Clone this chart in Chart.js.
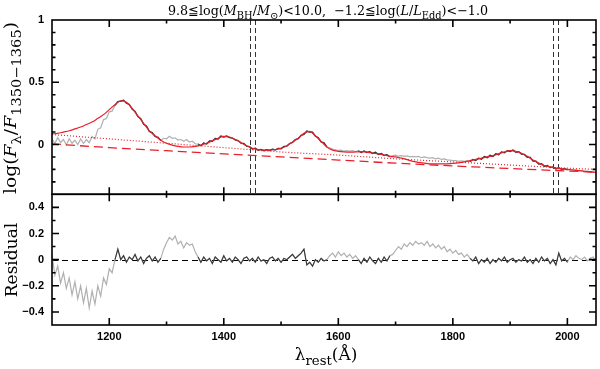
<!DOCTYPE html>
<html>
<head>
<meta charset="utf-8">
<script src="https://cdn.jsdelivr.net/npm/chart.js@4.4.1/dist/chart.umd.min.js"></script>
<style>
  html, body { margin: 0; padding: 0; background: #fff; }
  canvas { display: block; }
</style>
</head>
<body>
<canvas id="spec" width="600" height="369"></canvas>
<script>
// Spectrum sampling (rest-frame wavelength grid, Angstrom)
const SPEC_START = 1100;
const SPEC_STEP = 5;

// Composite spectrum, log(F / F_1350-1365), one value per 5 A from 1100 to 2050
const flux = [
    0.045, 0.008, 0.056, 0.016, 0.04, -0.004, 0.046, 0.01, 0.034, 0.0,
    0.044, 0.008, 0.04, 0.014, 0.064, 0.044, 0.122, 0.134, 0.2, 0.208,
    0.262, 0.268, 0.314, 0.345, 0.348, 0.356, 0.332, 0.322, 0.284, 0.266,
    0.224, 0.208, 0.163, 0.148, 0.104, 0.096, 0.064, 0.058, 0.032, 0.05,
    0.046, 0.066, 0.05, 0.054, 0.036, 0.04, 0.026, 0.04, 0.02, 0.026,
    0.006, 0.004, -0.01, 0.012, 0.004, 0.028, 0.026, 0.048, 0.044, 0.068,
    0.06, 0.068, 0.056, 0.052, 0.036, 0.032, 0.01, 0.008, -0.014, -0.018,
    -0.036, -0.03, -0.046, -0.04, -0.05, -0.042, -0.048, -0.038, -0.044, -0.032,
    -0.034, -0.016, -0.014, 0.008, 0.016, 0.04, 0.046, 0.074, 0.08, 0.108,
    0.1, 0.1, 0.066, 0.054, 0.02, 0.014, -0.02, -0.026, -0.036, -0.042,
    -0.048, -0.046, -0.054, -0.05, -0.054, -0.05, -0.058, -0.05, -0.064, -0.052,
    -0.064, -0.058, -0.072, -0.062, -0.08, -0.072, -0.088, -0.082, -0.098, -0.09,
    -0.086, -0.094, -0.09, -0.096, -0.092, -0.1, -0.096, -0.1, -0.096, -0.106,
    -0.1, -0.106, -0.11, -0.106, -0.116, -0.11, -0.12, -0.116, -0.124, -0.126,
    -0.13, -0.13, -0.136, -0.132, -0.136, -0.13, -0.138, -0.12, -0.128, -0.11,
    -0.118, -0.096, -0.106, -0.086, -0.096, -0.074, -0.082, -0.06, -0.066, -0.05,
    -0.056, -0.044, -0.062, -0.058, -0.078, -0.08, -0.104, -0.104, -0.134, -0.134,
    -0.158, -0.154, -0.176, -0.168, -0.186, -0.18, -0.196, -0.186, -0.2, -0.194,
    -0.204, -0.2, -0.206, -0.204, -0.21, -0.21, -0.216, -0.214, -0.22, -0.22,
    -0.224
];

// Fit residual on the same grid
const resid = [
    0.04, -0.12, -0.05, -0.18, -0.1, -0.22, -0.14, -0.27, -0.17, -0.3,
    -0.2, -0.33, -0.22, -0.37, -0.24, -0.34, -0.2, -0.28, -0.14, -0.19,
    -0.07, -0.1, 0.0, 0.08, 0.0, 0.03, -0.02, 0.02, 0.0, 0.04,
    -0.01, 0.02, -0.03, 0.01, 0.03, -0.01, 0.02, -0.02, 0.01, 0.08,
    0.13, 0.17, 0.15, 0.18, 0.12, 0.14, 0.09, 0.13, 0.11, 0.12,
    0.06, 0.02, -0.02, 0.02, -0.01, 0.01, -0.03, 0.02, 0.0, -0.02,
    0.03, -0.01, 0.01, -0.02, 0.02, 0.0, -0.03, 0.01, 0.02, -0.01,
    0.01, -0.02, 0.02, -0.01, 0.0, -0.03, 0.01, 0.02, -0.01, 0.01,
    -0.02, 0.01, 0.0, 0.02, 0.04, 0.01, 0.03, 0.05, 0.08, -0.04,
    -0.02, -0.05, 0.0, -0.02, 0.01, -0.01, 0.0, 0.03, 0.05, 0.02,
    0.06, 0.03, 0.05, 0.02, 0.04, 0.01, 0.03, 0.0, -0.03, 0.01,
    -0.02, 0.02, -0.01, -0.03, 0.01, -0.02, 0.02, -0.01, 0.03, 0.04,
    0.07, 0.1, 0.08, 0.12, 0.1, 0.13, 0.11, 0.14, 0.12, 0.13,
    0.11, 0.14, 0.1, 0.12, 0.09, 0.11, 0.08, 0.1, 0.06, 0.08,
    0.05, 0.07, 0.04, 0.05, 0.02, 0.04, 0.01, -0.01, 0.02, -0.03,
    0.0, -0.02, 0.01, -0.03, 0.0, -0.02, 0.01, -0.01, 0.02, -0.02,
    0.0, 0.01, -0.02, 0.0, -0.01, 0.02, -0.02, 0.0, -0.03, 0.01,
    -0.02, 0.02, -0.01, 0.01, -0.03, 0.0, -0.04, 0.05, -0.01, 0.01,
    -0.02, 0.02, 0.0, 0.03, 0.01, 0.0, 0.02, -0.01, 0.01, 0.02,
    -0.01
];

// Wavelength windows used in the fit (drawn dark)
const fitWindows = [[1210, 1290], [1355, 1580], [1635, 1690], [1830, 2000]];

// Best-fit model, every 10 A
const MODEL_START = 1100;
const MODEL_STEP = 10;
const model = [
    0.085, 0.09, 0.1, 0.11, 0.125, 0.14, 0.16, 0.18, 0.21, 0.24,
    0.28, 0.32, 0.35, 0.34, 0.29, 0.23, 0.17, 0.11, 0.07, 0.035,
    0.01, -0.005, -0.015, -0.02, -0.02, -0.015, -0.005, 0.01, 0.03, 0.05,
    0.065, 0.06, 0.04, 0.015, -0.01, -0.03, -0.04, -0.045, -0.045, -0.04,
    -0.03, -0.01, 0.02, 0.05, 0.09, 0.105, 0.07, 0.025, -0.02, -0.045,
    -0.055, -0.06, -0.062, -0.06, -0.058, -0.062, -0.07, -0.075, -0.085, -0.095,
    -0.1, -0.11, -0.122, -0.135, -0.143, -0.15, -0.155, -0.156, -0.156, -0.155,
    -0.152, -0.147, -0.14, -0.13, -0.12, -0.11, -0.1, -0.09, -0.075, -0.06,
    -0.05, -0.055, -0.07, -0.095, -0.125, -0.15, -0.17, -0.18, -0.19, -0.195,
    -0.2, -0.205, -0.21, -0.215, -0.22, -0.225
];

// Continuum components
const contWave  = [1100, 1200, 1300, 1400, 1500, 1600, 1700, 1800, 1900, 2000, 2050];
const powerLaw  = [0.005, -0.025, -0.05, -0.075, -0.1, -0.125, -0.15, -0.172, -0.193, -0.213, -0.222];
const contTotal = [0.08, 0.045, 0.01, -0.025, -0.06, -0.085, -0.115, -0.14, -0.165, -0.19, -0.2];

// Continuum reference wavelengths (vertical dashed lines)
const markerWave = [1445, 1455, 1975, 1984];

// Axis limits
const xRange = [1100, 2050];
const fluxRange = [-0.4, 1];
const residRange = [-0.5, 0.5];

// Colours
const RED = '#e8202a';
const GRAY = '#b0b0b0';
const DARK = '#383838';

// Build point lists
const toPoints = (start, step, vals) => vals.map((v, i) => ({ x: start + step * i, y: v }));
const inFit = w => fitWindows.some(([a, b]) => w >= a && w <= b);
const onlyFit = pts => pts.map(p => ({ x: p.x, y: inFit(p.x) ? p.y : null }));

const fluxPts = toPoints(SPEC_START, SPEC_STEP, flux);
const residPts = toPoints(SPEC_START, SPEC_STEP, resid);
const modelPts = toPoints(MODEL_START, MODEL_STEP, model);
const plPts = contWave.map((w, i) => ({ x: w, y: powerLaw[i] }));
const ctPts = contWave.map((w, i) => ({ x: w, y: contTotal[i] }));

const TICK_FONT = { family: '"Liberation Sans", Arial, sans-serif', size: 11, weight: 'bold' };
const SERIF = '"DejaVu Serif", serif';

const minus = s => s.replace('-', '\u2212');

// Rich text: parts = [text, italic, subscript]
function drawRich(ctx, parts, cx, baseY, size, fitW) {
    const segs = parts.map(([t, it, sub]) => {
        const fs = sub ? size * 0.78 : size;
        const font = (it ? 'italic ' : '') + fs + 'px ' + SERIF;
        ctx.font = font;
        return { t, font, w: ctx.measureText(t).width, dy: sub ? size * 0.32 : 0 };
    });
    const total = segs.reduce((a, s) => a + s.w, 0);
    const k = fitW ? fitW / total : 1;
    ctx.save();
    ctx.translate(cx - total * k / 2, baseY);
    ctx.scale(k, 1);
    ctx.fillStyle = '#000';
    ctx.textBaseline = 'alphabetic';
    let x = 0;
    segs.forEach(s => {
        ctx.font = s.font;
        ctx.fillText(s.t, x, s.dy);
        x += s.w;
    });
    ctx.restore();
}

// Frames, inward ticks, reference lines and titles
const decor = {
    id: 'decor',
    beforeDatasetsDraw(chart) {
        const { ctx, chartArea, scales } = chart;
        const x = scales.x, yf = scales.yf, yr = scales.yr;
        ctx.save();
        ctx.strokeStyle = '#333';
        ctx.lineWidth = 1;
        ctx.setLineDash([5, 3]);
        markerWave.forEach(w => {
            const px = Math.round(x.getPixelForValue(w)) + 0.5;
            ctx.beginPath();
            ctx.moveTo(px, yf.top);
            ctx.lineTo(px, yf.bottom);
            ctx.stroke();
        });
        ctx.strokeStyle = '#000';
        ctx.setLineDash([6, 4]);
        const py = Math.round(yr.getPixelForValue(0)) + 0.5;
        ctx.beginPath();
        ctx.moveTo(chartArea.left, py);
        ctx.lineTo(chartArea.right, py);
        ctx.stroke();
        ctx.restore();
    },
    afterDraw(chart) {
        const { ctx, chartArea, scales } = chart;
        const x = scales.x;
        const L = chartArea.left, R = chartArea.right;
        ctx.save();
        ctx.strokeStyle = '#000';
        ctx.lineWidth = 1.6;
        [scales.yf, scales.yr].forEach(ys => {
            ctx.strokeRect(L, ys.top, R - L, ys.bottom - ys.top);
            // x ticks on top and bottom of the panel
            x.ticks.forEach(t => {
                if (t.value <= xRange[0] || t.value >= xRange[1]) return;
                const len = t.value % 200 === 0 ? 7 : 3.5;
                const px = x.getPixelForValue(t.value);
                ctx.beginPath();
                ctx.moveTo(px, ys.top); ctx.lineTo(px, ys.top + len);
                ctx.moveTo(px, ys.bottom); ctx.lineTo(px, ys.bottom - len);
                ctx.stroke();
            });
            // y ticks left and right
            ys.ticks.forEach(t => {
                if (t.value <= ys.min + 1e-6 || t.value >= ys.max - 1e-6) return;
                const len = t.label !== '' ? 7 : 3.5;
                const py = ys.getPixelForValue(t.value);
                ctx.beginPath();
                ctx.moveTo(L, py); ctx.lineTo(L + len, py);
                ctx.moveTo(R, py); ctx.lineTo(R - len, py);
                ctx.stroke();
            });
        });
        ctx.restore();

        // Title
        drawRich(ctx, [
            ['9.8\u2266log(', false, false], ['M', true, false], ['BH', false, true],
            ['/', false, false], ['M', true, false], ['\u2299', false, true],
            [')<10.0,  \u22121.2\u2266log(', false, false], ['L', true, false],
            ['/', false, false], ['L', true, false], ['Edd', false, true],
            [')<\u22121.0', false, false]
        ], 328, 15, 13, 320);

        // x axis title
        drawRich(ctx, [['\u03bb', false, false], ['rest', false, true], ['(\u00c5)', false, false]],
            326, 360, 17);

        // y axis titles
        ctx.save();
        ctx.translate(16, 108);
        ctx.rotate(-Math.PI / 2);
        drawRich(ctx, [
            ['log(', false, false], ['F', true, false], ['\u03bb', false, true],
            ['/', false, false], ['F', true, false], ['1350\u22121365', false, true],
            [')', false, false]
        ], 0, 0, 17, 172);
        ctx.restore();

        ctx.save();
        ctx.translate(16.5, 260);
        ctx.rotate(-Math.PI / 2);
        drawRich(ctx, [['Residual', false, false]], 0, 0, 17);
        ctx.restore();
    }
};

const yCommon = {
    type: 'linear',
    position: 'left',
    stack: 'panels',
    grid: { display: false, drawTicks: false },
    border: { display: false },
    afterFit: s => { s.width = 52; }
};

const line = (data, yAxisID, color, width, extra) => Object.assign({
    data, yAxisID, borderColor: color, borderWidth: width,
    pointRadius: 0, fill: false, spanGaps: false, tension: 0
}, extra || {});

new Chart(document.getElementById('spec').getContext('2d'), {
    type: 'line',
    data: {
        datasets: [
            // first listed is drawn on top
            line(modelPts, 'yf', RED, 1.2, { cubicInterpolationMode: 'monotone' }),
            line(ctPts, 'yf', RED, 1.2, { borderDash: [1, 2], cubicInterpolationMode: 'monotone' }),
            line(plPts, 'yf', RED, 1.3, { borderDash: [9, 5], cubicInterpolationMode: 'monotone' }),
            line(onlyFit(fluxPts), 'yf', DARK, 1.3),
            line(fluxPts, 'yf', GRAY, 1.2),
            line(onlyFit(residPts), 'yr', DARK, 1.1),
            line(residPts, 'yr', GRAY, 1.2)
        ]
    },
    options: {
        responsive: false,
        animation: false,
        parsing: false,
        normalized: true,
        layout: { padding: { top: 20, right: 4, left: 0, bottom: 0 } },
        plugins: { legend: { display: false }, tooltip: { enabled: false } },
        scales: {
            x: {
                type: 'linear',
                min: xRange[0],
                max: xRange[1],
                grid: { display: false, drawTicks: false },
                border: { display: false },
                ticks: {
                    stepSize: 100,
                    includeBounds: false,
                    autoSkip: false,
                    maxRotation: 0,
                    padding: 5,
                    color: '#000',
                    font: TICK_FONT,
                    callback: v => (v % 200 === 0) ? String(v) : ''
                },
                afterFit: s => { s.height = 44; }
            },
            yr: Object.assign({}, yCommon, {
                stackWeight: 3,
                min: residRange[0],
                max: residRange[1],
                ticks: {
                    stepSize: 0.1,
                    autoSkip: false,
                    padding: 8,
                    color: '#000',
                    font: TICK_FONT,
                    callback: v => {
                        const r = Math.round(v * 10);
                        if (r % 2 !== 0 || Math.abs(r) >= 5) return '';
                        return r === 0 ? '0' : minus((r / 10).toFixed(1));
                    }
                }
            }),
            yf: Object.assign({}, yCommon, {
                stackWeight: 4,
                min: fluxRange[0],
                max: fluxRange[1],
                ticks: {
                    stepSize: 0.1,
                    autoSkip: false,
                    padding: 8,
                    color: '#000',
                    font: TICK_FONT,
                    callback: v => {
                        const r = Math.round(v * 10);
                        if (r % 5 !== 0) return '';
                        return r === 0 ? '0' : String(r / 10);
                    }
                }
            })
        }
    },
    plugins: [decor]
});
</script>
</body>
</html>
